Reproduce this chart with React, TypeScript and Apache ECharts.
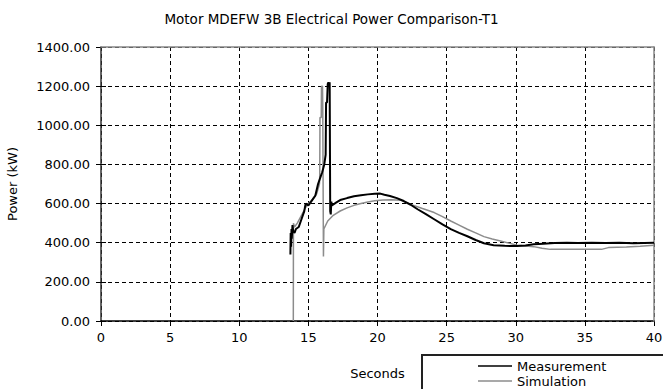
import React, { useEffect, useRef } from "react";
import * as echarts from "echarts";

const titleText = "Motor MDEFW 3B Electrical Power Comparison-T1";
const xName = "Seconds";
const yName = "Power (kW)";
const seriesNames = ["Measurement", "Simulation"];

// time (s)
const measT = [
  13.7, 13.72, 13.75, 13.78, 13.8, 13.85, 13.9, 14.0, 14.1, 14.3, 14.5, 14.7, 14.8, 15.0,
  15.2, 15.4, 15.5, 15.7, 15.9, 16.0, 16.15, 16.25, 16.28, 16.35, 16.4, 16.45, 16.5, 16.54,
  16.58, 16.62, 16.66, 16.7, 17.0, 17.3, 17.8, 18.3, 18.8, 19.3, 19.8, 20.2, 20.5, 20.9,
  21.4, 21.9, 22.4, 22.9, 23.5, 24.1, 24.7, 25.3, 25.9, 26.5, 27.1, 27.7, 28.4, 29.2,
  30.1, 30.7, 31.3, 32.0, 32.8, 33.7, 34.5, 35.5, 36.5, 37.5, 38.5, 39.3, 40.0,
];
const measV = [
  340, 450, 380, 470, 420, 490, 460, 450, 470, 480, 520, 560, 600, 590,
  610, 630, 640, 700, 740, 760, 800, 850, 1116, 1116, 1210, 1220, 1200, 1220,
  560, 545, 610, 590, 605, 618, 628, 637, 642, 647, 650, 651, 645, 639,
  628, 613, 594, 571, 546, 520, 494, 469, 450, 433, 414, 397, 387, 384,
  383, 386, 392, 395, 398, 400, 398, 400, 398, 400, 397, 399, 400,
];

const simT = [
  13.91, 13.92, 14.0, 14.2, 14.5, 14.8, 15.0, 15.3, 15.6, 15.8, 15.82, 15.84, 15.93, 15.95,
  16.02, 16.04, 16.09, 16.12, 16.4, 16.8, 17.3, 17.8, 18.3, 18.8, 19.3, 19.8, 20.4, 21.0,
  21.7, 22.4, 23.2, 24.1, 24.7, 25.3, 25.9, 26.5, 27.1, 27.7, 28.3, 28.9, 29.5, 30.1,
  30.7, 31.3, 31.9, 32.5, 34.0, 36.2, 36.7, 38.0, 39.0, 40.0,
];
const simV = [
  0, 500, 480, 500, 540, 580, 600, 620, 650, 700, 730, 1040, 1040, 1200,
  1200, 1100, 330, 470, 511, 540, 562, 578, 591, 600, 608, 614, 618, 619,
  617, 596, 576, 554, 533, 511, 490, 469, 450, 431, 419, 409, 398, 387,
  383, 380, 372, 366, 366, 366, 375, 378, 382, 387,
];

const xTicks = { min: 0, max: 40, interval: 5 };
const yTicks = { min: 0, max: 1400, interval: 200 };

const FONT = "DejaVu Sans";

export default function App() {
  const ref = useRef<HTMLDivElement>(null);
  useEffect(() => {
    if (!ref.current) return;
    const chart = echarts.init(ref.current, undefined, { renderer: "svg" });
    const measData = measT.map((t, i) => [t, measV[i]]);
    const simData = simT.map((t, i) => [t, simV[i]]);
    const dashed = { show: true, lineStyle: { color: "#000", type: [4, 3] as any, width: 1 } };
    const gridBox = {
      left: 101,
      right: 9,
      top: 47,
      bottom: 68,
      containLabel: false,
      outerBoundsMode: "none",
    };
    chart.setOption({
      animation: false,
      backgroundColor: "#fff",
      title: {
        text: titleText,
        left: "center",
        top: 7,
        textStyle: { fontFamily: FONT, fontSize: 13.5, fontWeight: "normal", color: "#000" },
      },
      grid: [gridBox, gridBox],
      legend: {
        orient: "vertical",
        left: 478,
        top: 359,
        padding: 0,
        itemGap: 1,
        itemWidth: 34,
        itemHeight: 1.5,
        icon: "rect",
        data: seriesNames,
        textStyle: { fontFamily: FONT, fontSize: 13, color: "#000", lineHeight: 14 },
      },
      graphic: [
        {
          type: "rect",
          shape: { x: 422, y: 355, width: 260, height: 50 },
          style: { fill: "none", stroke: "#222", lineWidth: 2 },
          z: 10,
        },
      ],
      xAxis: [
        {
          type: "value",
          gridIndex: 0,
          ...xTicks,
          name: xName,
          nameLocation: "middle",
          nameGap: 46,
          nameTextStyle: { fontFamily: FONT, fontSize: 13, color: "#000" },
          axisLine: { show: true, lineStyle: { color: "#000", width: 1.5 } },
          axisTick: { show: true, length: 5, lineStyle: { color: "#000" } },
          axisLabel: { fontFamily: FONT, fontSize: 13, color: "#000", margin: 10 },
          splitLine: dashed,
          z: 1,
        },
        {
          type: "value",
          gridIndex: 1,
          ...xTicks,
          position: "top",
          axisLine: { show: true, onZero: false, lineStyle: { color: "#888", width: 1.5 } },
          axisTick: { show: false },
          axisLabel: { show: false },
          splitLine: { show: false },
          z: 3,
        },
      ],
      yAxis: [
        {
          type: "value",
          gridIndex: 0,
          ...yTicks,
          name: yName,
          nameLocation: "middle",
          nameGap: 82,
          nameTextStyle: { fontFamily: FONT, fontSize: 13, color: "#000" },
          axisLine: { show: true, lineStyle: { color: "#333", width: 1.5 } },
          axisTick: { show: true, length: 5, lineStyle: { color: "#000" } },
          axisLabel: {
            fontFamily: FONT,
            fontSize: 13,
            color: "#000",
            margin: 11,
            formatter: (v: number) => v.toFixed(2),
          },
          splitLine: dashed,
          z: 1,
        },
        {
          type: "value",
          gridIndex: 1,
          ...yTicks,
          position: "left",
          axisLine: { show: false },
          axisTick: { show: true, inside: true, length: 5, lineStyle: { color: "#000" } },
          axisLabel: { show: false },
          splitLine: { show: false },
          z: 2,
        },
        {
          type: "value",
          gridIndex: 1,
          ...yTicks,
          position: "right",
          axisLine: { show: true, onZero: false, lineStyle: { color: "#888", width: 1.5 } },
          axisTick: { show: false },
          axisLabel: { show: false },
          splitLine: { show: false },
          z: 3,
        },
      ],
      series: [
        {
          name: seriesNames[1],
          type: "line",
          xAxisIndex: 0,
          yAxisIndex: 0,
          data: simData,
          showSymbol: false,
          symbol: "none",
          lineStyle: { color: "#8c8c8c", width: 1.5 },
          itemStyle: { color: "#8c8c8c" },
          z: 4,
        },
        {
          name: seriesNames[0],
          type: "line",
          xAxisIndex: 0,
          yAxisIndex: 0,
          data: measData,
          showSymbol: false,
          symbol: "none",
          lineStyle: { color: "#000", width: 2 },
          itemStyle: { color: "#000" },
          z: 5,
        },
      ],
    });
    return () => chart.dispose();
  }, []);
  return (
    <div
      ref={ref}
      style={{ position: "fixed", left: 0, top: 0, width: 663, height: 389, background: "#fff" }}
    />
  );
}
